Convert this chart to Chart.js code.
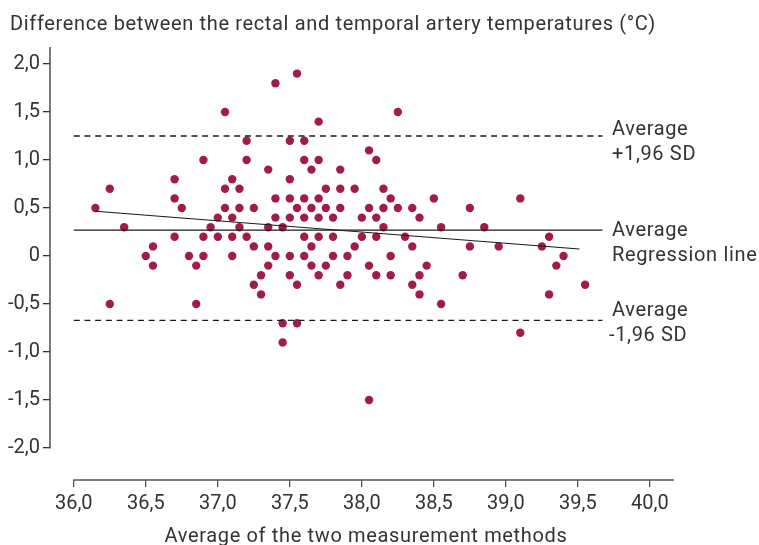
<!DOCTYPE html>
<html><head><meta charset="utf-8">
<script src="https://cdn.jsdelivr.net/npm/chart.js@4.4.1/dist/chart.umd.min.js"></script>
<style>html,body{margin:0;padding:0;background:#fff}#wrap{width:759px;height:545px}</style>
</head><body><div id="wrap"><canvas id="c" width="759" height="545"></canvas></div>
<script>
// Average of the two measurement methods (x) and difference rectal - temporal (y)
const meanTemp = [
  36.15,36.25,36.35,37.05,37.2,37.2,36.9,36.7,36.7,36.75,36.7,36.5,36.55,36.55,36.8,36.85,36.9,36.9,36.95,37.0,
  37.0,37.05,37.05,37.1,37.1,37.1,37.1,37.15,37.15,37.15,37.2,37.25,37.25,
  37.4,37.55,37.7,38.25,37.5,37.6,37.6,37.7,37.65,37.35,37.5,37.85,38.05,38.1,37.75,37.85,37.95,38.15,38.2,38.5,
  37.4,37.5,37.6,37.7,37.55,37.65,37.75,37.85,38.05,38.15,38.25,38.35,38.75,
  37.4,37.5,37.6,37.7,37.8,38.0,38.1,38.4,37.35,37.45,38.15,38.55,38.85,
  37.6,37.7,37.8,38.0,38.1,38.3,37.35,37.65,37.95,38.35,38.75,38.95,
  37.4,37.5,37.6,37.8,37.9,38.2,37.35,37.65,37.75,38.05,38.45,
  37.3,37.5,37.7,37.9,38.1,38.2,38.4,38.7,37.25,37.55,37.85,38.35,37.3,38.4,38.55,37.45,37.55,37.45,38.05,
  36.25,36.85,
  39.1,39.25,39.3,39.4,39.35,39.55,39.3,39.1
];
const tempDiff = [
  0.5,0.7,0.3,1.5,1.2,1.0,1.0,0.8,0.6,0.5,0.2,0,0.1,-0.1,0,-0.1,0,0.2,0.3,0.4,
  0.2,0.7,0.5,0.8,0.4,0.2,0,0.7,0.5,0.3,0.2,0.5,0.1,
  1.8,1.9,1.4,1.5,1.2,1.2,1.0,1.0,0.9,0.9,0.8,0.9,1.1,1.0,0.7,0.7,0.7,0.7,0.6,0.6,
  0.6,0.6,0.6,0.6,0.5,0.5,0.5,0.5,0.5,0.5,0.5,0.5,0.5,
  0.4,0.4,0.4,0.4,0.4,0.4,0.4,0.4,0.3,0.3,0.3,0.3,0.3,
  0.2,0.2,0.2,0.2,0.2,0.2,0.1,0.1,0.1,0.1,0.1,0.1,
  0,0,0,0,0,0,-0.1,-0.1,-0.1,-0.1,-0.1,
  -0.2,-0.2,-0.2,-0.2,-0.2,-0.2,-0.2,-0.2,-0.3,-0.3,-0.3,-0.3,-0.4,-0.4,-0.5,-0.7,-0.7,-0.9,-1.5,
  -0.5,-0.5,
  0.6,0.1,0.2,0,-0.1,-0.3,-0.4,-0.8
];
const xTicks = [36,36.5,37,37.5,38,38.5,39,39.5,40];
const xTickLabels = ['36,0','36,5','37,0','37,5','38,0','38,5','39,0','39,5','40,0'];
const yTicks = [2,1.5,1,0.5,0,-0.5,-1,-1.5,-2];
const yTickLabels = ['2,0','1,5','1,0','0,5','0','-0,5','-1,0','-1,5','-2,0'];
const upperLimit = 1.25;
const meanDiff = 0.27;
const lowerLimit = -0.67;
const limitX = [36.0, 39.67];
const regressionX = [36.15, 39.51];
const regressionY = [0.466, 0.073];
const titleText = 'Difference between the rectal and temporal artery temperatures (°C)';
const xTitleText = 'Average of the two measurement methods';
const sideLabels = ['Average','+1,96 SD','Average','Regression line','Average','-1,96 SD'];

const FONT = 'Roboto';
const TXT = '#333333';
const SPACING = '0.65px';

const points = meanTemp.map((x,i)=>({x, y: tempDiff[i]}));

const textPlugin = {
  id: 'texts',
  beforeInit(chart) { chart.ctx.letterSpacing = SPACING; },
  afterDraw(chart) {
    const ctx = chart.ctx;
    const xs = chart.scales.x, ys = chart.scales.y;
    ctx.save();
    ctx.letterSpacing = SPACING;
    // axis lines
    ctx.lineWidth = 1.3;
    ctx.strokeStyle = '#333';
    ctx.beginPath();
    ctx.moveTo(ys.left + ys.width, chart.chartArea.top);
    ctx.lineTo(ys.left + ys.width, ys.getPixelForValue(-2) + 0.5);
    ctx.stroke();
    ctx.strokeStyle = '#555';
    ctx.beginPath();
    ctx.moveTo(xs.getPixelForValue(36) - 0.5, xs.top);
    ctx.lineTo(chart.chartArea.right, xs.top);
    ctx.stroke();
    // texts
    ctx.fillStyle = TXT;
    ctx.textBaseline = 'alphabetic';
    ctx.textAlign = 'left';
    ctx.font = '20px ' + FONT;
    ctx.fillText(titleText, 10, 30);
    ctx.textAlign = 'center';
    ctx.fillText(xTitleText, 366, 542);
    ctx.textAlign = 'left';
    const sx = 612;
    ctx.fillText(sideLabels[0], sx, 135);
    ctx.fillText(sideLabels[1], sx, 159.5);
    ctx.fillText(sideLabels[2], sx, 236);
    ctx.fillText(sideLabels[3], sx, 260.5);
    ctx.fillText(sideLabels[4], sx, 316);
    ctx.fillText(sideLabels[5], sx - 3, 340.5);
    ctx.restore();
  }
};

const lineStyle = {type:'line', showLine:true, pointRadius:0, fill:false, borderColor:'#1a1a1a', tension:0};

new Chart(document.getElementById('c'), {
  type: 'scatter',
  data: {
    datasets: [
      Object.assign({}, lineStyle, {label:'upper', data: limitX.map(x=>({x, y: upperLimit})), borderDash:[6,4.7], borderWidth:1.3}),
      Object.assign({}, lineStyle, {label:'mean', data: limitX.map(x=>({x, y: meanDiff})), borderWidth:1.2}),
      Object.assign({}, lineStyle, {label:'lower', data: limitX.map(x=>({x, y: lowerLimit})), borderDash:[6,4.7], borderWidth:1.3}),
      Object.assign({}, lineStyle, {label:'regression', data: regressionX.map((x,i)=>({x, y: regressionY[i]})), borderWidth:1.2}),
      {label:'points', data: points, backgroundColor:'#A11D49', borderWidth:0, pointRadius:4.2, pointHoverRadius:4.2}
    ]
  },
  options: {
    responsive:false, animation:false, devicePixelRatio:1,
    layout:{padding:{left:0, right:85, top:47, bottom:0}},
    plugins:{legend:{display:false}, tooltip:{enabled:false}, title:{display:false}},
    scales:{
      x:{
        type:'linear', min:35.835, max:40.167,
        afterBuildTicks(s){ s.ticks = xTicks.map(v=>({value:v})); },
        afterFit(s){ s.height = 65; },
        ticks:{ autoSkip:false, maxRotation:0, padding:5, color:TXT, font:{family:FONT, size:20},
          callback:(v,i)=>xTickLabels[i] },
        grid:{ drawOnChartArea:false, drawTicks:true, tickLength:7, color:'#555', lineWidth:1.3 },
        border:{display:false}
      },
      y:{
        type:'linear', min:-2.333, max:2.177,
        afterBuildTicks(s){ s.ticks = yTicks.map(v=>({value:v})); },
        afterFit(s){ s.width = 50; },
        ticks:{ autoSkip:false, padding:3, color:TXT, font:{family:FONT, size:20},
          callback:(v,i)=>yTickLabels[i] },
        grid:{ drawOnChartArea:false, drawTicks:true, tickLength:7, color:'#333', lineWidth:1.3 },
        border:{display:false}
      }
    }
  },
  plugins:[textPlugin]
});
</script>
</body></html>
